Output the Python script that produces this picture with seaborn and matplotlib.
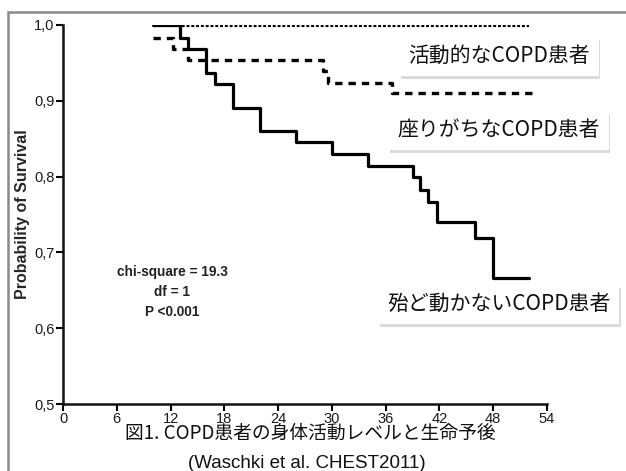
#!/usr/bin/env python3
# -*- coding: utf-8 -*-

import matplotlib
matplotlib.use('Agg')
import matplotlib.pyplot as plt
import matplotlib.patheffects as pe
from matplotlib.patches import Rectangle
import seaborn as sns

# ------------------------------------------------------------------------------
# data
# ------------------------------------------------------------------------------

# active COPD patients (dotted)
active_months = [10, 52]
active_surv = [1.0, 1.0]

# sedentary COPD patients (dashed)
sedentary_months = [10, 12.3, 14, 29, 29.6, 36.7, 52.6]
sedentary_surv = [0.983, 0.968, 0.954, 0.939, 0.924, 0.910, 0.910]

# (almost) inactive COPD patients (solid)
inactive_months = [10, 13, 14, 16, 17, 19, 22, 26, 30, 34, 39, 39.8, 40.7, 41.7, 46, 48, 52]
inactive_surv = [1.0, 0.983, 0.968, 0.937, 0.922, 0.891, 0.860, 0.845, 0.830,
                 0.814, 0.800, 0.782, 0.767, 0.740, 0.719, 0.666, 0.666]

x_ticks = [0, 6, 12, 18, 24, 30, 36, 42, 48, 54]
x_tick_labels = ['0', '6', '12', '18', '24', '30', '36', '42', '48', '54']
y_ticks = [0.5, 0.6, 0.7, 0.8, 0.9, 1.0]
y_tick_labels = ['0,5', '0,6', '0,7', '0,8', '0,9', '1,0']

group_labels = ['活動的なCOPD患者', '座りがちなCOPD患者', '殆ど動かないCOPD患者']
stats_lines = ['chi-square = 19.3', 'df = 1', 'P <0.001']
caption = '図1. COPD患者の身体活動レベルと生命予後'
source = '(Waschki et al. CHEST2011)'

# ------------------------------------------------------------------------------
# figure
# ------------------------------------------------------------------------------

sns.set_style('ticks')
plt.rcParams['font.family'] = ['Liberation Sans', 'Noto Sans CJK JP', 'DejaVu Sans']

W, H = 626, 471
fig = plt.figure(figsize=(W / 100, H / 100), dpi=100)
ax = fig.add_axes([63 / W, 1 - 404 / H, (547 - 63) / W, (404 - 25) / H])

# step curves
sns.lineplot(x=active_months, y=active_surv, ax=ax, color='black', lw=3.0,
             linestyle=(0, (0.7, 0.45)), drawstyle='steps-post', estimator=None, sort=False)
sns.lineplot(x=sedentary_months, y=sedentary_surv, ax=ax, color='black', lw=2.4,
             linestyle=(0, (2.2, 1.8)), drawstyle='steps-post', estimator=None, sort=False)
sns.lineplot(x=inactive_months, y=inactive_surv, ax=ax, color='black', lw=2.3,
             drawstyle='steps-post', estimator=None, sort=False)

# axes params
ax.set_xlim(0, 54)
ax.set_ylim(0.5, 1.0)
ax.set_xticks(x_ticks)
ax.set_xticklabels(x_tick_labels, fontsize=10.5, color='#1a1a1a')
ax.set_yticks(y_ticks)
ax.set_yticklabels(y_tick_labels, fontsize=10.5, color='#1a1a1a')
ax.tick_params(axis='both', length=5, width=1.5, color='black')
ax.tick_params(axis='y', pad=1)
ax.tick_params(axis='x', pad=0.5)
ax.set_xlabel(None)
ax.set_ylabel('Probability of Survival', fontsize=11.5, fontweight='bold', labelpad=3)
sns.despine(ax=ax)
for s in ['left', 'bottom']:
    ax.spines[s].set_linewidth(1.8)
    ax.spines[s].set_color('#111111')

# stats annotation
for i, line in enumerate(stats_lines):
    ax.text(172 / W, 1 - (272 + 20 * i) / H, line, transform=fig.transFigure,
            ha='center', va='center', fontsize=9.8, fontweight='bold', color='#222222')

# group labels in white boxes with a soft drop shadow
for label, yc in zip(group_labels, [56, 130, 304]):
    t = fig.text(499 / W, 1 - yc / H, label, ha='center', va='center', fontsize=15,
                 family=['Noto Sans CJK JP', 'DejaVu Sans'], color='#111111',
                 bbox=dict(boxstyle='square,pad=0.42', fc='white', ec='none'), zorder=5)
    t.get_bbox_patch().set_path_effects([
        pe.withSimplePatchShadow(offset=(1, -2.5), shadow_rgbFace='#9a9a9a', alpha=0.35),
        pe.Normal()])

# white band that clips the x tick labels, then the caption
fig.patches.append(Rectangle((10 / W, 0), 1, 1 - 424 / H, transform=fig.transFigure,
                             fc='white', ec='none', zorder=3))
fig.text(310 / W, 1 - 433 / H, caption, ha='center', va='center', fontsize=13.5,
         family=['Noto Sans CJK JP', 'DejaVu Sans'], color='#111111', zorder=6)
fig.text(307 / W, 1 - 464 / H, source, ha='center', va='center', fontsize=13.5,
         color='#111111', zorder=6)

# gray frame (left and top edges only are visible)
fig.patches.append(Rectangle((8 / W, -0.1), 1.2, 1 - 12 / H + 0.1, transform=fig.transFigure,
                             fc='none', ec='#8a8a8a', lw=1.8, zorder=7))

# save image
plt.savefig('out.png', dpi=100)
plt.close()
